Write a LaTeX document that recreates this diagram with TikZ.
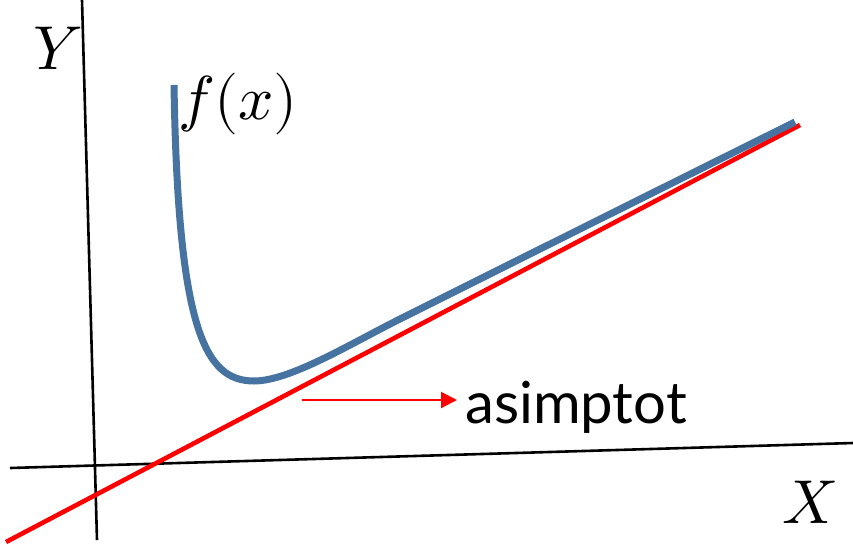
\documentclass[tikz,border=0pt]{standalone}
\usepackage{fontspec}
\usepackage{unicode-math}
\newfontfamily\labelfont{Lato}
\usetikzlibrary{arrows.meta}
\definecolor{curveblue}{RGB}{70,115,160}
\begin{document}
\begin{tikzpicture}[x=1pt,y=-1pt,
  axis/.style={line width=2.6pt,black},
  asym/.style={line width=4.6pt,red},
  fcurve/.style={line width=7pt,curveblue,line join=round},
  pointer/.style={line width=2pt,red,-{Triangle[length=16pt,width=16pt]}},
  mathlabel/.style={inner sep=0pt,font=\fontsize{62}{62}\selectfont},
  textlabel/.style={inner sep=0pt,anchor=base west,font=\labelfont\fontsize{58}{58}\selectfont}]
\useasboundingbox (0,0) rectangle (853,544);
% axes
\coordinate (yt) at (82,0);
\coordinate (yb) at (97,540);
\coordinate (xl) at (10,468);
\coordinate (xr) at (853,443);
\draw[axis] (yt) -- (yb);
\draw[axis] (xl) -- (xr);
% asymptote
\coordinate (al) at (6,542);
\coordinate (ar) at (800,125);
\draw[asym] (al) -- (ar);
% curve
\coordinate (fs) at (174,85);
\coordinate (fm) at (254,381);
\coordinate (fk) at (400,319);
\coordinate (fe) at (795,122);
\draw[fcurve] (fs) .. controls (178,330) and (205,381) .. (fm)
  .. controls (290,381) and (350,344) .. (fk)
  .. controls (530,254) and (660,189) .. (fe);
% labels
\node[mathlabel] (ylab) at (58,48) {$Y$};
\node[mathlabel] (xlab) at (810,502) {$X$};
\node[mathlabel] (flab) at (238,104) {$f(x)$};
\node[textlabel] (asim) at (465,423) {asimptot};
\coordinate (as) at (302,400);
\coordinate (ae) at (457,400);
\draw[pointer] (as) -- (ae);
\end{tikzpicture}
\end{document}
